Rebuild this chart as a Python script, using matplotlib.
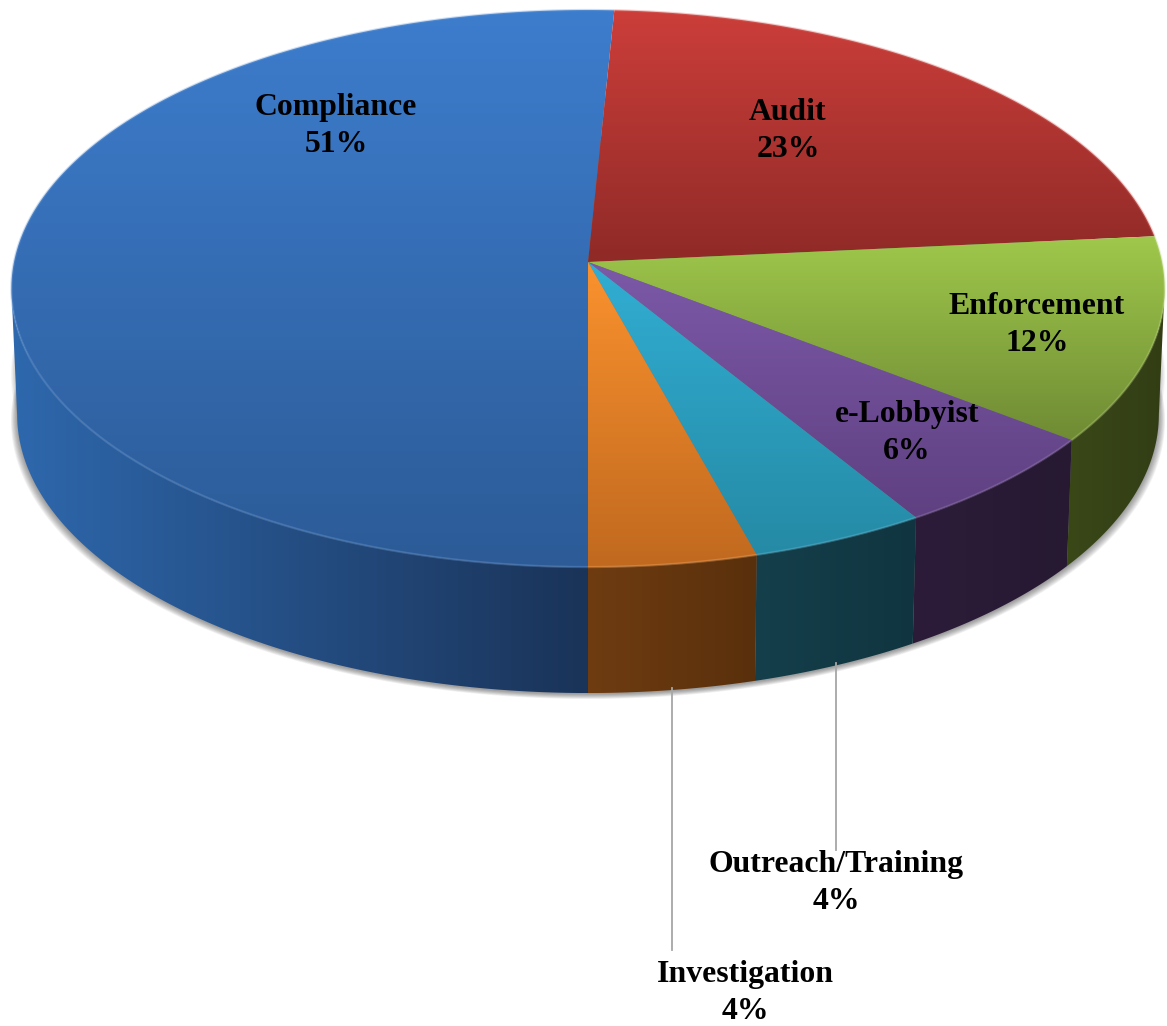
import numpy as np
import matplotlib
matplotlib.use("Agg")
import matplotlib.pyplot as plt
from matplotlib.patches import Polygon
from matplotlib.colors import to_rgb

categories = ["Compliance", "Audit", "Enforcement", "e-Lobbyist", "Outreach/Training", "Investigation"]
values = [50.8, 22.7, 11.9, 5.8, 4.5, 4.3]
top_start = ["#3d7dcd", "#cc3e3a", "#9fc84b", "#7c59a8", "#31aed3", "#fb922e"]
top_end = ["#2c5b97", "#8f2a27", "#6f8b34", "#5f4081", "#258aa5", "#c0691f"]
side_start = ["#2e68ad", "#6b1f1d", "#3a4818", "#2c1c3a", "#143f4b", "#6f3c11"]
side_end = ["#1a3358", "#6b1f1d", "#323d14", "#261931", "#103540", "#59300c"]
label_xy = [(336, 126), (788, 131), (1037, 325), (907, 433), (836, 883), (745, 993)]
leaders = {"Outreach/Training": (836, 663, 850), "Investigation": (672, 688, 950)}

W, H = 1167, 1026
CX, CY, A, B, K = 588, 262, 276, 574, 0.0952
DEPTH, SHRINK = 126, 0.99
PHI_VIS = np.arccos(K)  # silhouette point of the rim, either side of the front


def project(phi):
    x = -np.sin(phi)
    y = np.cos(phi)
    d = 1 - K * y
    return CX + B * x / d, CY + A * y / d


def gradient_fill(ax, xs, ys, c0, c1, horizontal, z):
    poly = Polygon(np.column_stack([xs, ys]), closed=True, fc="none", ec="none", zorder=z)
    ax.add_patch(poly)
    t = np.linspace(0, 1, 256)
    rgb = np.outer(1 - t, to_rgb(c0)) + np.outer(t, to_rgb(c1))
    img = rgb[None, :, :] if horizontal else rgb[:, None, :]
    im = ax.imshow(img, extent=(xs.min(), xs.max(), ys.max(), ys.min()), aspect="auto",
                   interpolation="bilinear", zorder=z)
    im.set_clip_path(poly)
    return poly


fig = plt.figure(figsize=(W / 100, H / 100), dpi=100, facecolor="white")
ax = fig.add_axes([0, 0, 1, 1])
ax.axis("off")

# soft shadow: closed rims, whose far side stays hidden behind the pie
phi_all = np.linspace(0, 2 * np.pi, 720)
fx, fy = project(phi_all)
for i in range(10):
    grow = 1.0 + 0.0012 * i
    bx = CX + (fx - CX) * SHRINK * grow
    by = fy + DEPTH + 1 + i * 0.55
    ax.add_patch(Polygon(np.column_stack([bx, by]), closed=True, fc="#303030", ec="none",
                         alpha=0.06, zorder=1))
    ax.add_patch(Polygon(np.column_stack([bx, by - 45]), closed=True, fc="#303030", ec="none",
                         alpha=0.04, zorder=1))

fractions = np.array(values) / sum(values)
edges = np.concatenate([[0], np.cumsum(fractions)]) * 2 * np.pi

# side walls: only the part of the rim that faces the viewer
for i in range(len(values)):
    p0, p1 = edges[i], edges[i + 1]
    if p0 > PHI_VIS and p1 < 2 * np.pi - PHI_VIS:
        continue
    if p0 < PHI_VIS:
        p1 = min(p1, PHI_VIS)
    else:
        p0 = max(p0, 2 * np.pi - PHI_VIS)
    phi = np.linspace(p0, p1, 200)
    x, y = project(phi)
    xb = CX + (x - CX) * SHRINK
    yb = y + DEPTH
    xs = np.concatenate([x, xb[::-1]])
    ys = np.concatenate([y, yb[::-1]])
    gradient_fill(ax, xs, ys, side_start[i], side_end[i], True, 2 + i * 0.01)

# top faces
for i in range(len(values)):
    phi = np.linspace(edges[i], edges[i + 1], 240)
    x, y = project(phi)
    xs = np.concatenate([[CX], x])
    ys = np.concatenate([[CY], y])
    gradient_fill(ax, xs, ys, top_start[i], top_end[i], False, 3 + i * 0.01)
    # bevel highlight along the rim
    c = np.array(to_rgb(top_start[i]))
    ax.plot(x, y, color=tuple(c + (1 - c) * 0.25), lw=1.6, alpha=0.35, zorder=4,
            solid_capstyle="butt")

# leader lines
for name, (lx, y0, y1) in leaders.items():
    ax.plot([lx, lx], [y0, y1], color="#a6a6a6", lw=1.3, zorder=5)

# labels
for name, v, (lx, ly) in zip(categories, values, label_xy):
    ax.text(lx, ly, f"{name}\n{round(v)}%", ha="center", va="center", zorder=6,
            family="Liberation Serif", fontweight="bold", fontsize=22.9,
            linespacing=1.36, color="black")

ax.set_xlim(0, W)
ax.set_ylim(H, 0)
fig.savefig("out.png", dpi=100, facecolor="white")
